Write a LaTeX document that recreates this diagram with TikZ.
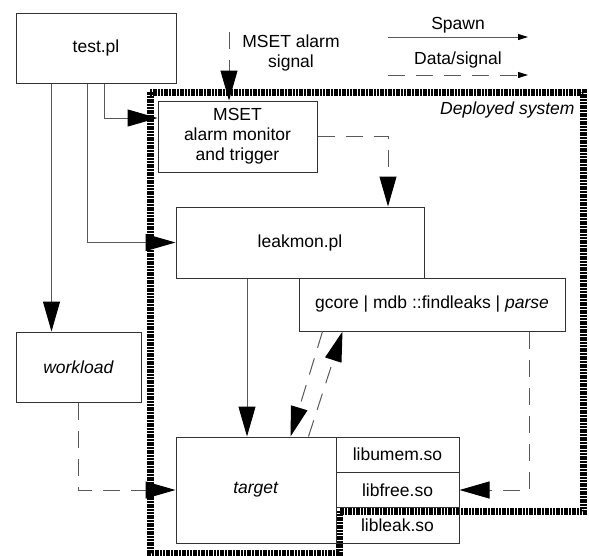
\documentclass[tikz,border=0pt]{standalone}
\usepackage{fontspec}
\setmainfont{Liberation Sans}
\usetikzlibrary{arrows.meta}
\tikzstyle{block} = [rectangle, draw=black!80, line width=1pt, text centered]
\tikzstyle{lib} = [block, minimum width=123pt, minimum height=35.33pt]
\tikzstyle{spawn} = [draw=black!65, line width=1pt, -{Triangle[length=30pt, width=17pt, color=black]}]
\tikzstyle{data} = [spawn, dash pattern=on 17pt off 11pt]
\tikzstyle{legendspawn} = [draw=black!65, line width=1pt, -{Triangle[length=10pt, width=6pt, color=black]}]
\tikzstyle{legenddata} = [legendspawn, dash pattern=on 17pt off 11pt]
\tikzstyle{boundary} = [line width=7pt, dash pattern=on 2pt off 0.7pt]
\begin{document}
\begin{tikzpicture}[x=1pt, y=-1pt, font=\fontsize{17.5}{20}\selectfont]
      \useasboundingbox (0,0) rectangle (589,555);
      % deployed system
      \draw [boundary] (150,92) -- (583,92) -- (583,511) -- (339,511) -- (339,553) -- (150,553) -- cycle;
      \node (deployed) [anchor=east, font=\fontsize{17.5}{20}\selectfont\itshape] at (578,110) {Deployed system};
      % blocks
      \node (test) [block, minimum width=160pt, minimum height=70pt] at (96,48) {test.pl};
      \node (mset) [block, minimum width=159pt, minimum height=71pt, align=center] at (237.5,136.5) {MSET\\alarm monitor\\and trigger};
      \node (leakmon) [block, minimum width=248pt, minimum height=71pt] at (300,242.5) {leakmon.pl};
      \node (gcore) [block, minimum width=266pt, minimum height=53pt] at (432,304.5) {gcore | mdb ::findleaks | \textit{parse}};
      \node (workload) [block, minimum width=125pt, minimum height=70pt] at (78.5,367) {\textit{workload}};
      \node (target) [block, minimum width=160pt, minimum height=106pt] at (256,490) {\textit{target}};
      \node (libfree) [lib, right of=target, node distance=141.5pt] {libfree.so};
      \node (libumem) [lib, above of=libfree, node distance=35.33pt] {libumem.so};
      \node (libleak) [lib, below of=libfree, node distance=35.33pt] {libleak.so};
      % spawn
      \draw [spawn] ([xshift=36pt]test.south west) -- ([xshift=36pt]test.south west |- workload.north);
      \draw [spawn] ([xshift=72pt]test.south west) |- (leakmon.west);
      \draw [spawn] ([xshift=89pt]test.south west) |- ([yshift=18.5pt]mset.west);
      \draw [spawn] ([xshift=-53pt]leakmon.south) -- ([xshift=-53pt]leakmon.south |- target.north);
      % data / signals
      \coordinate (signal) at (229,32);
      \node (signaltext) [align=center] at (291,53) {MSET alarm\\signal};
      \draw [data] (signal) -- (signal |- mset.north);
      \draw [data] (mset.east) -| ([xshift=88pt]leakmon.north);
      \draw [data] ([xshift=24pt]gcore.south west) -- ([xshift=-46pt]target.north east);
      \draw [data] ([xshift=-28pt]target.north east) -- ([xshift=44pt]gcore.south west);
      \draw [data] ([xshift=-36pt]gcore.south east) |- (libfree.east);
      \draw [data] (workload.south) |- (target.west);
      % legend
      \coordinate (spawnA) at (388,37);
      \coordinate (spawnB) at (528,37);
      \coordinate (dataA) at (388,75);
      \coordinate (dataB) at (528,75);
      \draw [legendspawn] (spawnA) -- (spawnB) node (spawnlabel) [midway, above, inner sep=3pt] {Spawn};
      \draw [legenddata] (dataA) -- (dataB) node (datalabel) [midway, above, inner sep=6pt] {Data/signal};
    \end{tikzpicture}
\end{document}
